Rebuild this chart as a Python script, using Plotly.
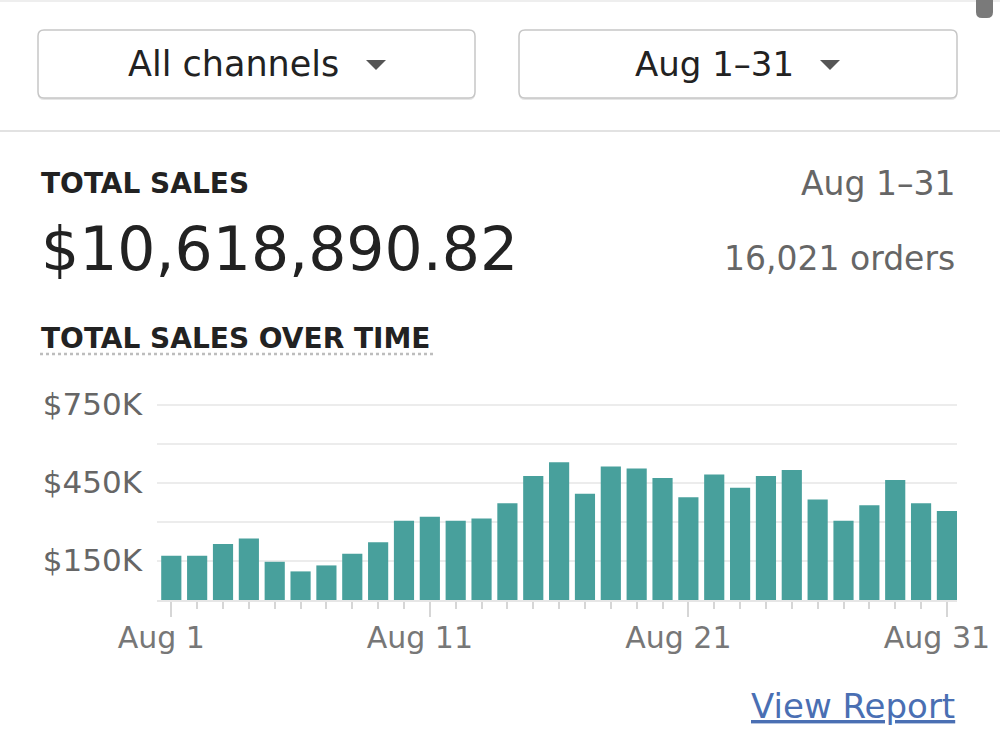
import plotly.graph_objects as go

# ---- data ----
days = list(range(1, 32))
sales = [170000, 170000, 215000, 237000, 147000, 110000, 133000, 178000, 222000, 305000,
         320000, 305000, 313000, 372000, 477000, 530000, 409000, 513000, 506000, 469000,
         395000, 483000, 432000, 477000, 500000, 387000, 305000, 364000, 462000, 372000, 342000]
x_tick_vals = [1, 11, 21, 31]
x_tick_text = ["Aug 1", "Aug 11", "Aug 21", "Aug 31"]
y_tick_vals = [0, 150000, 300000, 450000, 600000, 750000]
y_tick_text = ["", "$150K", "", "$450K", "", "$750K"]

FONT = "DejaVu Sans"
W, H = 1000, 750


def px(x):
    return x / W


def py(y):
    return 1 - y / H


def rounded_rect(x0, y0, x1, y1, r):
    rx, ry = r / W, r / H
    X0, X1 = px(x0), px(x1)
    Y0, Y1 = py(y0), py(y1)  # Y0 top (higher), Y1 bottom
    return (f"M {X0+rx},{Y0} L {X1-rx},{Y0} Q {X1},{Y0} {X1},{Y0-ry} "
            f"L {X1},{Y1+ry} Q {X1},{Y1} {X1-rx},{Y1} L {X0+rx},{Y1} "
            f"Q {X0},{Y1} {X0},{Y1+ry} L {X0},{Y0-ry} Q {X0},{Y0} {X0+rx},{Y0} Z")


def triangle(cx, cy, w, h):
    return (f"M {px(cx-w/2)},{py(cy-h/2)} L {px(cx+w/2)},{py(cy-h/2)} "
            f"L {px(cx)},{py(cy+h/2)} Z")


fig = go.Figure(go.Bar(x=days, y=sales, marker=dict(color="#48a09c", line=dict(width=0)),
                       hoverinfo="skip"))

shapes = []
# top faint line
shapes.append(dict(type="line", xref="paper", yref="paper", x0=0, x1=1, y0=py(1), y1=py(1),
                   line=dict(color="#eeeeee", width=2)))
# scrollbar
shapes.append(dict(type="path", xref="paper", yref="paper",
                   path=rounded_rect(976, -8, 993, 18, 6), fillcolor="#7a7a7a",
                   line=dict(width=0)))
# dropdown boxes with subtle shadow
for (x0, x1) in [(38, 475), (519, 957)]:
    shapes.append(dict(type="path", xref="paper", yref="paper",
                       path=rounded_rect(x0, 31, x1, 100, 6), fillcolor="#e6e6e6",
                       line=dict(width=0)))
    shapes.append(dict(type="path", xref="paper", yref="paper",
                       path=rounded_rect(x0, 30, x1, 98, 6), fillcolor="white",
                       line=dict(color="#c6c6c6", width=1.5)))
# dropdown triangles
shapes.append(dict(type="path", xref="paper", yref="paper", path=triangle(376, 65, 20, 10),
                   fillcolor="#555555", line=dict(width=0)))
shapes.append(dict(type="path", xref="paper", yref="paper", path=triangle(830, 65, 20, 10),
                   fillcolor="#555555", line=dict(width=0)))
# separator
shapes.append(dict(type="line", xref="paper", yref="paper", x0=0, x1=1, y0=py(131), y1=py(131),
                   line=dict(color="#e2e2e2", width=2)))
# dotted underline
shapes.append(dict(type="line", xref="paper", yref="paper", x0=px(40), x1=px(436),
                   y0=py(354), y1=py(354), line=dict(color="#bdbdbd", width=2.5, dash="dot")))

annotations = [
    dict(text="All channels", x=px(233), y=py(64), font=dict(size=35, color="#222222")),
    dict(text="Aug 1–31", x=px(714), y=py(64), font=dict(size=34, color="#222222")),
    dict(text="<b>TOTAL SALES</b>", x=px(39), y=py(183), xanchor="left",
         font=dict(size=28, color="#222222")),
    dict(text="Aug 1–31", x=px(957), y=py(183), xanchor="right",
         font=dict(size=33, color="#666666")),
    dict(text="$10,618,890.82", x=px(39), y=py(249), xanchor="left",
         font=dict(size=60, color="#222222")),
    dict(text="16,021 orders", x=px(957), y=py(258), xanchor="right",
         font=dict(size=33, color="#666666")),
    dict(text="<b>TOTAL SALES OVER TIME</b>", x=px(39), y=py(339), xanchor="left",
         font=dict(size=28, color="#222222")),
    dict(text="<u>View Report</u>", x=px(957), y=py(706), xanchor="right",
         font=dict(size=34, color="#4a6fb3")),
]
for a in annotations:
    a.update(xref="paper", yref="paper", showarrow=False, yanchor=a.get("yanchor", "middle"),
             xanchor=a.get("xanchor", "center"))
    a["font"]["family"] = FONT

Y_MAX = 760000
top_px = 600 - 195 * Y_MAX / 750000

fig.update_layout(
    width=W, height=H,
    margin=dict(l=0, r=0, t=0, b=0, pad=0, autoexpand=False),
    paper_bgcolor="white", plot_bgcolor="white",
    showlegend=False, bargap=0.22,
    shapes=shapes, annotations=annotations,
    font=dict(family=FONT),
    xaxis=dict(domain=[px(157), px(957)], range=[0.447, 31.39], automargin=False,
               tickmode="array", tickvals=x_tick_vals, ticktext=x_tick_text,
               ticks="outside", ticklen=15, tickcolor="#d6d6d6", tickwidth=2,
               minor=dict(dtick=1, tick0=1, ticks="outside", ticklen=7,
                          tickcolor="#d6d6d6", tickwidth=2),
               showgrid=False, zeroline=False, showline=True, linecolor="#e6e6e6",
               linewidth=2, ticklabelshift=-10, ticklabelstandoff=-5,
               tickfont=dict(family=FONT, size=30, color="#777777"), fixedrange=True),
    yaxis=dict(domain=[py(600), py(top_px)], range=[0, Y_MAX], automargin=False,
               tickmode="array", tickvals=y_tick_vals, ticktext=y_tick_text,
               showgrid=True, gridcolor="#ececec", gridwidth=1.5, zeroline=False,
               showline=False, ticks="", ticklabelstandoff=14, ticklabelshift=-1,
               tickfont=dict(family=FONT, size=31, color="#666666"), fixedrange=True),
)

fig.write_html("out.html")
